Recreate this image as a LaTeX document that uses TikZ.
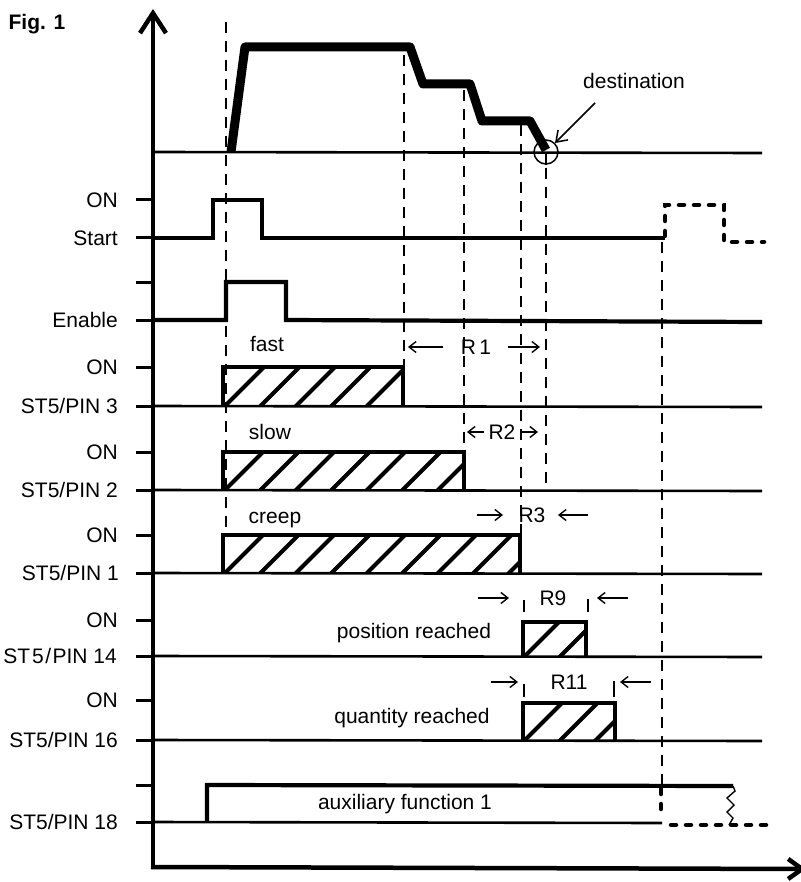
\documentclass[tikz,border=0pt]{standalone}
\usepackage{fontspec}
\setmainfont{Liberation Sans}
\usetikzlibrary{arrows.meta}
\newcommand\hatchbox[4]{%
  \begin{scope}
    \clip (#1,#4) rectangle (#2,#3);
    \foreach \k in {0,...,12}{\draw[hatch] ({#1+35.5*\k},{#4+2}) -- ++(42,-42);}
  \end{scope}
  \draw[sig] (#1,#4) -- (#1,#3) -- (#2,#3) -- (#2,#4);}
\begin{document}
\begin{tikzpicture}[x=1pt,y=-1pt,
  lbl/.style={font=\fontsize{21}{24}\selectfont, inner sep=0pt, text height=15pt, text depth=0pt},
  base/.style={line width=2.6pt},
  sig/.style={line width=4.2pt, line join=miter},
  tickmark/.style={line width=3pt},
  guide/.style={line width=2pt, dash pattern=on 11pt off 8pt},
  fut/.style={line width=4.5pt, dash pattern=on 5pt off 10pt, line cap=round},
  hatch/.style={line width=4pt},
  rarr/.style={line width=1.4pt, -{Straight Barb[length=7pt,width=11pt]}},
  rtick/.style={line width=1.6pt},
]
\useasboundingbox (0,0) rectangle (800,882);
\fill[white] (0,0) rectangle (800,882);

% title
\node[lbl, font=\fontsize{21}{24}\selectfont\bfseries] (fig) at (37,22) {Fig. 1};

% axes
\draw[line width=4.5pt, -{Straight Barb[length=20pt,width=26pt]}] (153,868) -- (153,9);
\draw[line width=4.5pt, -{Straight Barb[length=14pt,width=20pt]}] (151,867) -- (806,869);

% left ticks
\foreach \y in {200,238,282,320,367,406,452,490,535,573,620,656,700,740,785,822}
  \draw[tickmark] (136,\y) -- (153,\y);

% left labels
\node[lbl, anchor=east] (on1) at (118,200) {ON};
\node[lbl, anchor=east] (start) at (118,238) {Start};
\node[lbl, anchor=east] (enable) at (118,320) {Enable};
\node[lbl, anchor=east] (on3) at (118,367) {ON};
\node[lbl, anchor=east] (pin3) at (118,406) {ST5/PIN 3};
\node[lbl, anchor=east] (on2) at (118,452) {ON};
\node[lbl, anchor=east] (pin2) at (118,490) {ST5/PIN 2};
\node[lbl, anchor=east] (onc) at (118,535) {ON};
\node[lbl, anchor=east] (pin1) at (119,573) {ST5/PIN 1};
\node[lbl, anchor=east] (on14) at (118,620) {ON};
\node[lbl, anchor=east] (pin14) at (117,656) {ST\hspace{2pt}5\hspace{1.5pt}/\hspace{1.5pt}PIN 14};
\node[lbl, anchor=east] (on16) at (118,700) {ON};
\node[lbl, anchor=east] (pin16) at (118,740) {ST5/PIN 16};
\node[lbl, anchor=east] (pin18) at (118,822) {ST5/PIN 18};

% speed profile
\draw[base] (153,152) -- (762,153);
\draw[line width=9pt, line join=round] (231,152) -- (245,47) -- (410,47) -- (423,84) -- (470,84) -- (482,121) -- (530,121) -- (546,150);
\node[draw, circle, line width=1.5pt, minimum size=24pt, inner sep=0pt] (dest) at (546,152) {};
\draw[line width=1.5pt] (dest.center) -- (dest.south);
\node[lbl] (destlbl) at (634,81) {destination};
\coordinate (desttail) at (595,103);
\draw[line width=1.5pt, -{Straight Barb[length=10pt,width=14pt]}] (desttail) -- (dest.north east);

% guides
\draw[guide] (226,22) -- (226,535);
\draw[guide] (404,55) -- (404,367);
\draw[guide] (464,90) -- (464,452);
\draw[guide] (521,125) -- (521,535);
\draw[guide] (546,168) -- (546,492);
\draw[guide] (662,242) -- (662,785);

% Start
\draw[sig] (153,238) -- (213,238) -- (213,200) -- (262,200) -- (262,238) -- (665,238);
\draw[fut] (665,236) -- (665,205) -- (724,205) -- (724,242) -- (764,242);

% Enable
\draw[sig] (153,320) -- (226,320) -- (226,282) -- (286,282) -- (286,320) -- (762,322);

% PIN 3
\draw[base] (153,406) -- (762,407);
\hatchbox{223}{403}{367}{406}
\node[lbl] (fast) at (267,344) {fast};
\node[lbl] (r1) at (476,347) {R\,1};
\draw[rarr] (443,347) -- (408,347);
\draw[rarr] (508,347) -- (540,347);

% PIN 2
\draw[base] (153,490) -- (762,491);
\hatchbox{223}{464}{452}{490}
\node[lbl] (slow) at (270,432) {slow};
\node[lbl] (r2) at (502,432) {R2};
\draw[rarr] (484,432) -- (467,432);
\draw[rarr] (521,432) -- (538,432);

% PIN 1
\draw[base] (153,573) -- (762,574);
\hatchbox{223}{520}{535}{573}
\node[lbl] (creep) at (275,516) {creep};
\node[lbl] (r3) at (532,515) {R3};
\draw[rarr] (477,515) -- (503,515);
\draw[rarr] (588,515) -- (558,515);

% PIN 14
\draw[base] (153,656) -- (762,657);
\hatchbox{523}{586}{622}{656}
\node[lbl] (posr) at (414,631) {position reached};
\node[lbl] (r9) at (553,598) {R9};
\draw[rarr] (478,598) -- (509,598);
\draw[rarr] (628,598) -- (597,598);
\draw[rtick] (524,600) -- (524,612);
\draw[rtick] (588,599) -- (588,612);

% PIN 16
\draw[base] (153,740) -- (762,741);
\hatchbox{523}{615}{703}{740}
\node[lbl] (qtyr) at (412,716) {quantity reached};
\node[lbl] (r11) at (569,682) {R11};
\draw[rarr] (491,682) -- (518,682);
\draw[rarr] (651,682) -- (620,682);
\draw[rtick] (524,684) -- (524,697);
\draw[rtick] (614,681) -- (614,697);

% PIN 18
\draw[base] (153,822) -- (662,823);
\draw[sig] (207,822) -- (207,785) -- (733,786);
\draw[line width=1.4pt] (733,786) -- (735,791) -- (727,798) -- (734,805) -- (727,812) -- (733,818) -- (729,825);
\draw[fut] (661,789) -- (661,815);
\draw[fut] (671,825) -- (766,825);
\node[lbl] (aux) at (405,802) {auxiliary function 1};
\end{tikzpicture}
\end{document}
